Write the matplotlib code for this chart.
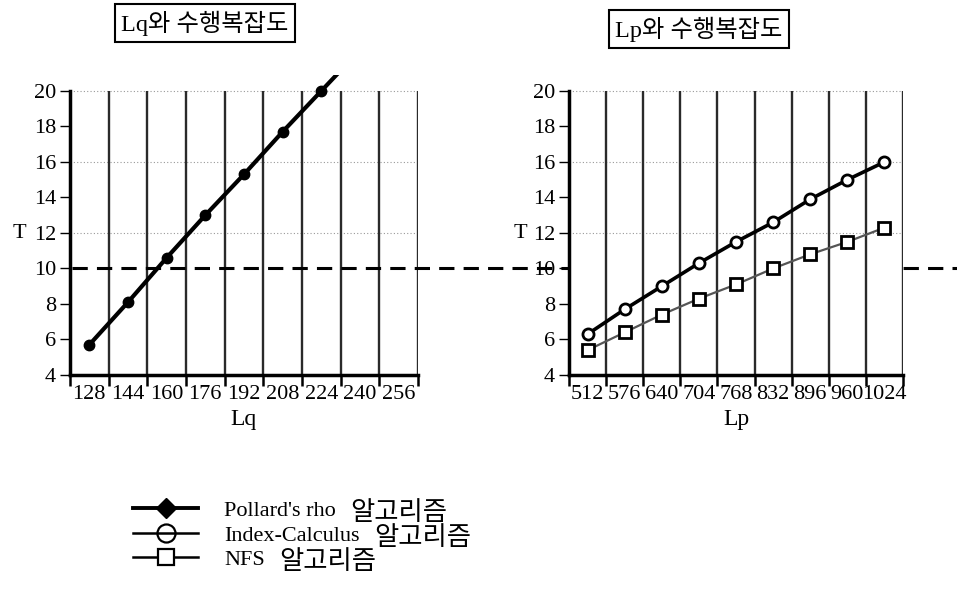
import matplotlib
matplotlib.use("Agg")
import matplotlib.pyplot as plt
from matplotlib.lines import Line2D
import numpy as np

plt.rcParams["font.family"] = ["Liberation Serif", "Noto Sans CJK KR"]

# ── Data ────────────────────────────────────────────────────────────────────
lq_labels = ["128", "144", "160", "176", "192", "208", "224", "240", "256"]
pollard_T = [5.7, 8.1, 10.6, 13.0, 15.3, 17.7, 20.0, 22.3]

lp_labels = ["512", "576", "640", "704", "768", "832", "896", "960", "1024"]
index_T = [6.3, 7.7, 9.0, 10.3, 11.5, 12.6, 13.9, 15.0, 16.0]
nfs_T = [5.4, 6.4, 7.4, 8.3, 9.1, 10.0, 10.8, 11.5, 12.3]

threshold_T = 10
y_ticks = list(range(4, 21, 2))
dotted_T = [12, 16, 20]

legend_names = ["Pollard's rho", "Index-Calculus", "NFS"]
legend_suffix = "알고리즘"

# ── Figure ──────────────────────────────────────────────────────────────────
fig = plt.figure(figsize=(9.57, 5.91), dpi=100)
ax_l = fig.add_axes([0.0731, 0.3655, 0.3636, 0.5076])
ax_r = fig.add_axes([0.5946, 0.3655, 0.3490, 0.5076])

Y_LO, Y_HI, Y_TOP = 4, 20.9, 20


def style_axis(ax, labels, xlabel):
    n = len(labels)
    ax.set_xlim(0, n)
    ax.set_ylim(Y_LO, Y_HI)
    for side in ("top", "right"):
        ax.spines[side].set_visible(False)
    ax.spines["left"].set_linewidth(2.5)
    ax.spines["bottom"].set_linewidth(2.5)
    ax.spines["left"].set_bounds(Y_LO, Y_TOP)

    bounds = np.arange(1, n + 1)
    ax.vlines(bounds, Y_LO, Y_TOP, color="#2a2a2a", linewidth=1.7, zorder=1)
    ax.hlines(dotted_T, 0, n, color="#999999", linewidth=0.8,
              linestyles=(0, (1, 2)), zorder=0)

    ax.set_xticks(np.arange(n) + 0.5)
    ax.set_xticklabels(labels)
    ax.set_xticks(np.arange(0, n + 1), minor=True)
    ax.tick_params(axis="x", which="major", length=0, labelsize=16, pad=7)
    ax.tick_params(axis="x", which="minor", length=8, width=1.8, direction="out")
    ax.set_yticks(y_ticks)
    ax.tick_params(axis="y", length=7, width=1, direction="out", labelsize=16, pad=3)

    ax.set_ylabel("T", rotation=0, fontsize=16, va="center")
    ax.yaxis.set_label_coords(-0.145, 0.47)
    ax.set_xlabel(xlabel, fontsize=17, labelpad=4)


style_axis(ax_l, lq_labels, "Lq")
style_axis(ax_r, lp_labels, "Lp")

# Pollard's rho (left)
x_p = np.arange(len(pollard_T)) + 0.5
ax_l.plot(x_p, pollard_T, color="black", linewidth=3, marker="o",
          markersize=7.5, zorder=3)

# Index-Calculus and NFS (right)
x_r = np.arange(len(index_T)) + 0.5
ax_r.plot(x_r, index_T, color="black", linewidth=2.6, marker="o", markersize=8,
          markerfacecolor="white", markeredgecolor="black", markeredgewidth=2, zorder=3)
ax_r.plot(x_r, nfs_T, color="#555555", linewidth=1.6, marker="s", markersize=8,
          markerfacecolor="white", markeredgecolor="black", markeredgewidth=2, zorder=3)

# threshold across the whole figure
ax_l.axhline(threshold_T, xmin=0.006, xmax=2.56, color="black", linewidth=2.2,
             linestyle=(0, (5, 3)), clip_on=False, zorder=4)

# boxed titles
box = dict(boxstyle="square,pad=0.26", facecolor="white", edgecolor="black", linewidth=1.5)
ax_l.text(0.388, 1.173, "Lq와 수행복잡도", transform=ax_l.transAxes, ha="center",
          va="center", fontsize=17.5, bbox=box)
ax_r.text(0.389, 1.153, "Lp와 수행복잡도", transform=ax_r.transAxes, ha="center",
          va="center", fontsize=17.5, bbox=box)

# legend
handles = [
    Line2D([], [], color="black", linewidth=2.8, marker="D", markersize=10,
           markerfacecolor="black"),
    Line2D([], [], color="black", linewidth=1.8, marker="o", markersize=13,
           markerfacecolor="none", markeredgewidth=1.6),
    Line2D([], [], color="black", linewidth=1.8, marker="s", markersize=11,
           markerfacecolor="white", markeredgewidth=1.6),
]
leg = fig.legend(handles, legend_names, loc="upper left", bbox_to_anchor=(0.13, 0.168),
                 frameon=False, fontsize=16, handlelength=2.9, handletextpad=1.2,
                 labelspacing=0.18, borderaxespad=0)

# Korean suffix in a larger size, appended after each legend entry
fig.canvas.draw()
W, H = fig.bbox.width, fig.bbox.height
for t in leg.get_texts():
    bb = t.get_window_extent()
    fig.text((bb.x1 + 14) / W, (bb.y0 + bb.y1) / 2 / H - 0.002, legend_suffix,
             ha="left", va="center", fontsize=19, family="Noto Sans CJK KR")

fig.savefig("out.png", dpi=100)
